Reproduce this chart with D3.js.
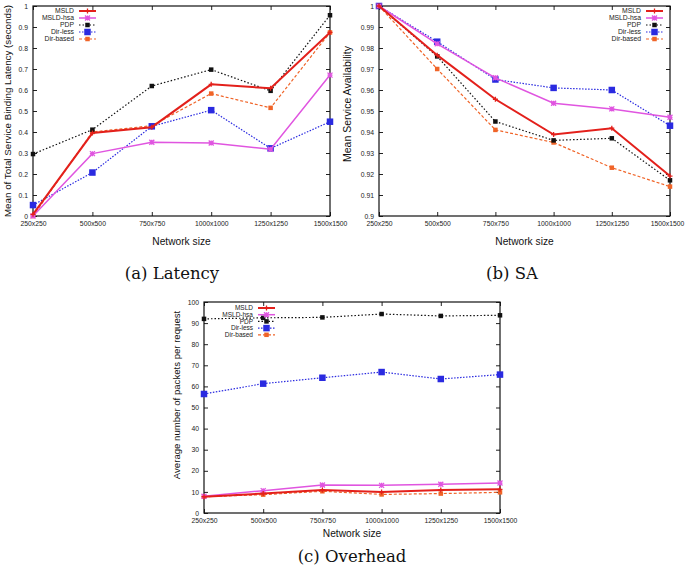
<!DOCTYPE html>
<html><head><meta charset="utf-8">
<script src="https://cdn.jsdelivr.net/npm/d3@7"></script>
<style>
body{margin:0;background:#fff;}
svg{display:block;}
.tick text{font-family:"Liberation Sans",Arial,sans-serif;font-size:6.8px;fill:#222;}
</style></head>
<body>
<script>
const categories = ["250x250","500x500","750x750","1000x1000","1250x1250","1500x1500"];
const seriesNames = ["MSLD","MSLD-hsa","PDP","Dir-less","Dir-based"];

// (a) Latency
const latencyMSLD    = [0.008, 0.395, 0.423, 0.627, 0.608, 0.874];
const latencyHsa     = [0.0,   0.297, 0.351, 0.348, 0.318, 0.671];
const latencyPDP     = [0.295, 0.411, 0.619, 0.697, 0.596, 0.956];
const latencyDirLess = [0.052, 0.207, 0.427, 0.504, 0.322, 0.449];
const latencyDirBased= [0.0,   0.400, 0.430, 0.583, 0.515, 0.874];

// (b) SA
const saMSLD    = [1.0, 0.9766, 0.9556, 0.9388, 0.9418, 0.919];
const saHsa     = [1.0, 0.982,  0.9658, 0.9537, 0.951,  0.947];
const saPDP     = [1.0, 0.976,  0.945,  0.936,  0.937,  0.917];
const saDirLess = [1.0, 0.983,  0.965,  0.961,  0.960,  0.943];
const saDirBased= [1.0, 0.970,  0.941,  0.935,  0.923,  0.914];

// (c) Overhead
const ovMSLD    = [7.7, 9.2, 10.9, 10.0, 10.9, 11.2];
const ovHsa     = [7.9, 10.6, 13.3, 13.1, 13.6, 14.2];
const ovPDP     = [92.0, 92.5, 92.7, 94.3, 93.4, 93.7];
const ovDirLess = [56.4, 61.3, 64.1, 66.8, 63.5, 65.6];
const ovDirBased= [7.7, 8.7, 10.3, 8.8, 9.2, 9.8];

const latencyTicks = d3.range(0, 1.0001, 0.1);
const saTicks = d3.range(0.9, 1.0001, 0.01);
const ovTicks = d3.range(0, 100.1, 10);

const styles = {
  "MSLD":      {color:"#e3201b", width:2,   dash:null,  marker:"plus"},
  "MSLD-hsa":  {color:"#e055e0", width:1.5, dash:null,  marker:"star"},
  "PDP":       {color:"#111111", width:1.2, dash:"1.5,2", marker:"sq", size:4.5},
  "Dir-less":  {color:"#2a2ae0", width:1.2, dash:"1.5,1.5", marker:"sq", size:6.5},
  "Dir-based": {color:"#f06428", width:1.2, dash:"3,2", marker:"sq", size:4.5}
};

const svg = d3.select("body").append("svg").attr("width",685).attr("height",567);

function marker(g, name, x, y){
  const s = styles[name];
  if(s.marker==="sq"){
    g.append("rect").attr("x",x-s.size/2).attr("y",y-s.size/2).attr("width",s.size).attr("height",s.size).attr("fill",s.color);
  } else if(s.marker==="plus"){
    g.append("path").attr("d",`M${x-2.5},${y}H${x+2.5}M${x},${y-2.5}V${y+2.5}`).attr("stroke",s.color).attr("stroke-width",1.3);
  } else {
    g.append("path").attr("d",`M${x-2.5},${y-2.5}L${x+2.5},${y+2.5}M${x-2.5},${y+2.5}L${x+2.5},${y-2.5}M${x-2.5},${y}H${x+2.5}M${x},${y-2.5}V${y+2.5}`).attr("stroke",s.color).attr("stroke-width",1.3);
  }
}

function panel(cfg){
  const g = svg.append("g");
  const x = d3.scalePoint().domain(categories).range([cfg.x0,cfg.x1]).padding(0);
  const y = d3.scaleLinear().domain(cfg.domain).range([cfg.y1,cfg.y0]);
  const fmt = cfg.fmt;
  const ax = g.append("g").attr("transform",`translate(0,${cfg.y1})`)
    .call(d3.axisBottom(x).tickSizeInner(-4).tickSizeOuter(0).tickPadding(4));
  const axt = g.append("g").attr("transform",`translate(0,${cfg.y0})`)
    .call(d3.axisTop(x).tickSizeInner(-4).tickSizeOuter(0).tickFormat(""));
  const ay = g.append("g").attr("transform",`translate(${cfg.x0},0)`)
    .call(d3.axisLeft(y).tickValues(cfg.ticks).tickFormat(fmt).tickSizeInner(-4).tickSizeOuter(0).tickPadding(5));
  const ayr = g.append("g").attr("transform",`translate(${cfg.x1},0)`)
    .call(d3.axisRight(y).tickValues(cfg.ticks).tickFormat("").tickSizeInner(-4).tickSizeOuter(0));
  [ax,axt,ay,ayr].forEach(a=>{a.select(".domain").remove(); a.selectAll(".tick line").attr("stroke","#222");});
  ax.selectAll(".tick text").attr("dy","0.9em");
  if(cfg.lastDx) ax.selectAll(".tick text").filter(d=>d===categories[categories.length-1]).attr("dx",cfg.lastDx);
  g.append("rect").attr("x",cfg.x0).attr("y",cfg.y0).attr("width",cfg.x1-cfg.x0).attr("height",cfg.y1-cfg.y0)
    .attr("fill","none").attr("stroke","#111").attr("stroke-width",1.2);
  const line = d3.line().x((d,i)=>x(categories[i])).y(d=>y(d));
  const order = ["Dir-based","Dir-less","PDP","MSLD-hsa","MSLD"];
  order.forEach(name=>{
    const vals = cfg.data[name]; const s = styles[name];
    g.append("path").attr("d",line(vals)).attr("fill","none").attr("stroke",s.color)
      .attr("stroke-width",s.width).attr("stroke-dasharray",s.dash);
    vals.forEach((v,i)=>marker(g,name,x(categories[i]),y(v)));
  });
  seriesNames.forEach((name,i)=>{
    const ly = cfg.legY + i*cfg.legDy;
    const s = styles[name];
    g.append("text").attr("x",cfg.legX).attr("y",ly).attr("dy","0.35em").attr("text-anchor","end")
      .attr("font-family","Liberation Sans, Arial, sans-serif").attr("font-size",cfg.legFont).attr("fill","#222").text(name);
    g.append("line").attr("x1",cfg.legX+5).attr("x2",cfg.legX+22).attr("y1",ly).attr("y2",ly)
      .attr("stroke",s.color).attr("stroke-width",s.width).attr("stroke-dasharray",s.dash);
    marker(g,name,cfg.legX+13.5,ly);
  });
  g.append("text").attr("x",(cfg.x0+cfg.x1)/2).attr("y",cfg.xlabY).attr("text-anchor","middle")
    .attr("font-family","Liberation Sans, Arial, sans-serif").attr("font-size","10.2px").attr("fill","#111").text("Network size");
  g.append("text").attr("transform",`translate(${cfg.ylabX},${cfg.ylabC}) rotate(-90)`).attr("text-anchor","middle")
    .attr("dy","0.35em").attr("font-family","Liberation Sans, Arial, sans-serif").attr("font-size",cfg.ylabSize).attr("fill","#111").text(cfg.ylab);
  g.append("text").attr("x",cfg.capX).attr("y",cfg.capY).attr("text-anchor","middle")
    .attr("font-family","DejaVu Serif, serif").attr("font-size","16.5px").attr("fill","#111").text(cfg.caption);
}

panel({x0:33,x1:330,y0:6,y1:216,domain:[0,1],ticks:latencyTicks,fmt:d3.format("~g"),
  data:{"MSLD":latencyMSLD,"MSLD-hsa":latencyHsa,"PDP":latencyPDP,"Dir-less":latencyDirLess,"Dir-based":latencyDirBased},
  legX:74,legY:11,legDy:7,legFont:"6.8px",xlabY:245,ylabX:8,ylabC:111,ylabSize:"9.8px",ylab:"Mean of Total Service Binding Latency (seconds)",
  capX:172,capY:279,caption:"(a)  Latency"});

panel({x0:379,x1:670,y0:6,y1:216,domain:[0.9,1],ticks:saTicks,fmt:d3.format("~g"),lastDx:-3,
  data:{"MSLD":saMSLD,"MSLD-hsa":saHsa,"PDP":saPDP,"Dir-less":saDirLess,"Dir-based":saDirBased},
  legX:641,legY:11,legDy:7,legFont:"6.8px",xlabY:245,ylabX:347,ylabC:104,ylabSize:"10.5px",ylab:"Mean Service Availability",
  capX:512,capY:279,caption:"(b)  SA"});

panel({x0:204,x1:500,y0:302,y1:513,domain:[0,100],ticks:ovTicks,fmt:d3.format("~g"),
  data:{"MSLD":ovMSLD,"MSLD-hsa":ovHsa,"PDP":ovPDP,"Dir-less":ovDirLess,"Dir-based":ovDirBased},
  legX:253,legY:308,legDy:6.7,legFont:"6.5px",xlabY:537,ylabX:177,ylabC:395,ylabSize:"9.6px",ylab:"Average number of packets per request",
  capX:352,capY:562,caption:"(c)  Overhead"});
</script>
</body></html>
